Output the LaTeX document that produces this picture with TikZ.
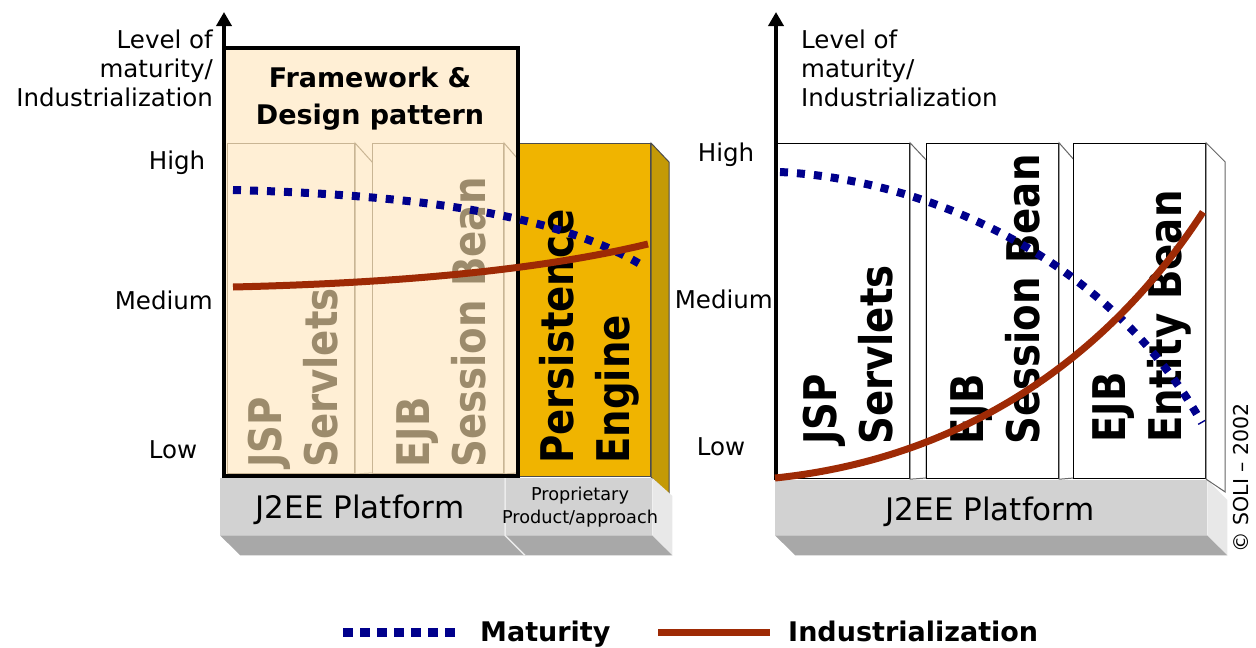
\documentclass[tikz,border=0pt]{standalone}
\usepackage{fontspec}
\setmainfont{DejaVu Sans}
\newfontfamily\colfont{DejaVu Sans}[FakeStretch=0.86]
\usepackage{tikz}
\usetikzlibrary{positioning,arrows.meta}
\definecolor{beigecol}{HTML}{FFEFD5}
\definecolor{tancol}{HTML}{C9B594}
\definecolor{tantext}{HTML}{9C8B6C}
\definecolor{goldcol}{HTML}{F0B400}
\definecolor{goldside}{HTML}{C49A06}
\definecolor{matcol}{HTML}{00008C}
\definecolor{indcol}{HTML}{9E2A05}
\definecolor{slabfront}{HTML}{D2D2D2}
\definecolor{slabunder}{HTML}{A8A8A8}
\definecolor{slabside}{HTML}{E8E8E8}

\begin{document}
\begin{tikzpicture}[
   x=1pt, y=-1pt,
   font=\fontsize{24.5}{29}\selectfont,
   axis/.style={line width=4.5pt,-{Triangle[length=14pt,width=15pt]}},
   lvl/.style={inner sep=0pt},
   front/.style={anchor=north west,inner sep=0pt,minimum height=#1},
   lcol/.style={front=330pt,draw=tancol,fill=beigecol,line width=1pt},
   lside/.style={draw=tancol,fill=beigecol,line width=1pt},
   rcol/.style={front=335pt,draw=black,fill=white,line width=1.2pt},
   rside/.style={draw=black!60,fill=white,line width=1pt},
   coltxt/.style={rotate=90,anchor=west,align=left,inner sep=0pt,
                  font=\colfont\bfseries\fontsize{45}{56}\selectfont},
   slabtxt/.style={inner sep=0pt,font=\fontsize{31}{31}\selectfont},
   maturity/.style={matcol,line width=8pt,dash pattern=on 8pt off 9pt},
   industr/.style={indcol,line width=7pt},
   legtxt/.style={anchor=base west,inner sep=0pt,
                  font=\bfseries\fontsize{27}{27}\selectfont},
]
\useasboundingbox (0,0) rectangle (1256,648);

% ---------------- left chart ----------------
\node[front=428pt,minimum width=294pt,fill=beigecol] (fw) at (224,48) {};

% columns inside the framework block
\node[lcol,minimum width=127pt] (jspl) at (227,143) {};
\draw[lside] (jspl.north east) -- ++(18,20) -- ++(0,310) -- (jspl.south east) -- cycle;
\node[lcol,minimum width=131pt] (ejbl) at (372,143) {};
\draw[lside] (ejbl.north east) -- ++(13,15) -- ++(0,315) -- (ejbl.south east) -- cycle;
\node[coltxt,text=tantext] (jspltxt) at (293,468) {JSP\\Servlets};
\node[coltxt,text=tantext] (ejbltxt) at (441,468) {EJB\\Session Bean};

% persistence engine block
\node[front=333pt,minimum width=132pt,fill=goldcol,draw=black!70,line width=1pt] (pe) at (518,143) {};
\draw[fill=goldside,draw=black!70,line width=1pt]
     (pe.north east) -- ++(18,19) -- ++(0,333) -- (pe.south east) -- cycle;
\node[coltxt] (petxt) at (589,464) {Persistence\\Engine};

% framework border and title
\draw[line width=4pt] (fw.north west) rectangle (fw.south east);
\node[align=center,font=\bfseries\fontsize{27}{37}\selectfont] (fwtitle) at (370,99)
     {Framework \&\\Design pattern};

% platform slabs
\node[front=57pt,minimum width=285pt,fill=slabfront] (j2eel) at (220,478) {};
\fill[slabunder] (j2eel.south west) -- (j2eel.south east) -- ++(20,20) -- ++(-285,0) -- cycle;
\node[front=57pt,minimum width=147pt,fill=slabfront] (prop) at (505,478) {};
\fill[slabunder] (prop.south west) -- (prop.south east) -- ++(20,20) -- ++(-147,0) -- cycle;
\fill[slabside] (prop.north east) -- ++(20,18) -- ++(0,59) -- (prop.south east) -- cycle;
\draw[white!85!gray,line width=1.5pt] (prop.north west) -- (prop.south west) -- ++(20,20);
\node[slabtxt] (j2eeltxt) at (360,510) {J2EE Platform};
\node[align=center,inner sep=0pt,font=\fontsize{17.7}{23}\selectfont] (proptxt) at (580,507)
     {Proprietary\\Product/approach};

% axis and levels
\coordinate (lorig) at (224,478);
\coordinate (ltop) at (224,12);
\draw[axis] (lorig) -- (ltop);
\node[lvl,anchor=east,align=right] (lvll) at (213,68) {Level of\\maturity/\\Industrialization};
\node[lvl] (highl) at (177,163) {High};
\node[lvl,anchor=east] (medl) at (213,300) {Medium};
\node[lvl] (lowl) at (173,450) {Low};

% curves
\draw[maturity] (233,190) .. controls (420,195) and (560,215) .. (645,267);
\draw[industr] (233,287) .. controls (400,283) and (540,270) .. (648,244);

% ---------------- right chart ----------------
\node[front=55pt,minimum width=432pt,fill=slabfront] (j2eer) at (775,480) {};
\fill[slabunder] (j2eer.south west) -- (j2eer.south east) -- ++(20,20) -- ++(-432,0) -- cycle;
\fill[slabside] (j2eer.north east) -- ++(20,20) -- ++(0,55) -- (j2eer.south east) -- cycle;
\node[slabtxt] (j2eertxt) at (990,512) {J2EE Platform};

\node[rcol,minimum width=132pt] (jspr) at (777,143) {};
\draw[rside] (jspr.north east) -- ++(16,17) -- ++(0,318) -- (jspr.south east) -- cycle;
\node[rcol,minimum width=132pt] (ejbr) at (926,143) {};
\draw[rside] (ejbr.north east) -- ++(15,17) -- ++(0,318) -- (ejbr.south east) -- cycle;
\node[rcol,minimum width=132pt] (entr) at (1073,143) {};
\draw[rside] (entr.north east) -- ++(19,19) -- ++(0,330) -- (entr.south east) -- cycle;
\node[coltxt] (jsprtxt) at (848,445) {JSP\\Servlets};
\node[coltxt] (ejbrtxt) at (995,445) {EJB\\Session Bean};
\node[coltxt] (entrtxt) at (1142,443) {EJB\\Entity Bean};

\coordinate (rorig) at (776,480);
\coordinate (rtop) at (776,12);
\draw[axis] (rorig) -- (rtop);
\node[lvl,anchor=west,align=left] (lvlr) at (801,68) {Level of\\maturity/\\Industrialization};
\node[lvl] (highr) at (726,155) {High};
\node[lvl,anchor=east] (medr) at (773,299) {Medium};
\node[lvl] (lowr) at (721,447) {Low};

\draw[maturity] (780,172) .. controls (930,180) and (1110,260) .. (1202,423);
\draw[industr] (775,478) .. controls (950,460) and (1100,370) .. (1203,212);

\node[rotate=90,inner sep=0pt,font=\fontsize{20.5}{20.5}\selectfont] (copy) at (1241,478)
     {© SOLI – 2002};

% legend
\coordinate (matA) at (343,632);
\coordinate (matB) at (455,632);
\coordinate (indA) at (658,632);
\coordinate (indB) at (770,632);
\draw[matcol,line width=9pt,dash pattern=on 10pt off 7pt] (matA) -- (matB);
\draw[industr] (indA) -- (indB);
\node[legtxt] (matlbl) at (480,641) {Maturity};
\node[legtxt] (indlbl) at (788,641) {Industrialization};

\end{tikzpicture}
\end{document}
